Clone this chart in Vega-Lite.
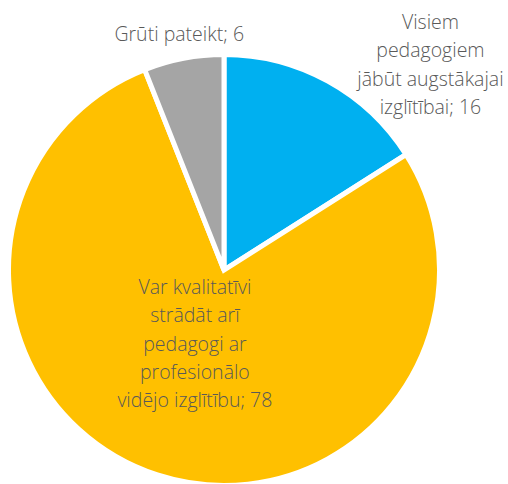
{
  "$schema": "https://vega.github.io/schema/vega-lite/v6.json",
  "width": 448,
  "height": 428,
  "autosize": {"type": "none"},
  "padding": {"left": 0, "top": 56, "right": 60, "bottom": 0},
  "background": "white",
  "view": {"stroke": null},
  "data": {
    "values": [
      {"cat": "Visiem pedagogiem jābūt augstākajai izglītībai", "value": 16, "order": 1, "label": "Visiem\npedagogiem\njābūt augstākajai\nizglītībai; 16"},
      {"cat": "Var kvalitatīvi strādāt arī pedagogi ar profesionālo vidējo izglītību", "value": 78, "order": 2, "label": "Var kvalitatīvi\nstrādāt arī\npedagogi ar\nprofesionālo\nvidējo izglītību; 78"},
      {"cat": "Grūti pateikt", "value": 6, "order": 3, "label": "Grūti pateikt; 6"}
    ]
  },
  "encoding": {
    "theta": {"field": "value", "type": "quantitative", "stack": true},
    "order": {"field": "order", "type": "quantitative"}
  },
  "layer": [
    {
      "mark": {"type": "arc", "radius": 215.5, "stroke": "white", "strokeWidth": 5},
      "encoding": {
        "color": {
          "field": "cat",
          "type": "nominal",
          "scale": {
            "domain": ["Visiem pedagogiem jābūt augstākajai izglītībai", "Var kvalitatīvi strādāt arī pedagogi ar profesionālo vidējo izglītību", "Grūti pateikt"],
            "range": ["#00B0F0", "#FFC000", "#A5A5A5"]
          },
          "legend": null
        }
      }
    },
    {
      "mark": {"type": "text", "radius": 250, "dx": 86, "dy": -28, "font": "Open Sans", "fontWeight": 300, "fontSize": 19.5, "lineHeight": 28.3, "lineBreak": "\n", "color": "#595959", "align": "center", "baseline": "middle"},
      "encoding": {
        "detail": {"field": "cat", "type": "nominal"},
        "text": {"field": "label", "type": "nominal"},
        "opacity": {"condition": {"test": "datum.order === 1", "value": 1}, "value": 0}
      }
    },
    {
      "mark": {"type": "text", "radius": 78, "dx": -5, "dy": -56, "font": "Open Sans", "fontWeight": 300, "fontSize": 19.5, "lineHeight": 28.3, "lineBreak": "\n", "color": "#595959", "align": "center", "baseline": "middle"},
      "encoding": {
        "detail": {"field": "cat", "type": "nominal"},
        "text": {"field": "label", "type": "nominal"},
        "opacity": {"condition": {"test": "datum.order === 2", "value": 1}, "value": 0}
      }
    },
    {
      "mark": {"type": "text", "radius": 239, "font": "Open Sans", "fontWeight": 300, "fontSize": 19.5, "lineHeight": 28.3, "lineBreak": "\n", "color": "#595959", "align": "center", "baseline": "middle"},
      "encoding": {
        "detail": {"field": "cat", "type": "nominal"},
        "text": {"field": "label", "type": "nominal"},
        "opacity": {"condition": {"test": "datum.order === 3", "value": 1}, "value": 0}
      }
    }
  ]
}
